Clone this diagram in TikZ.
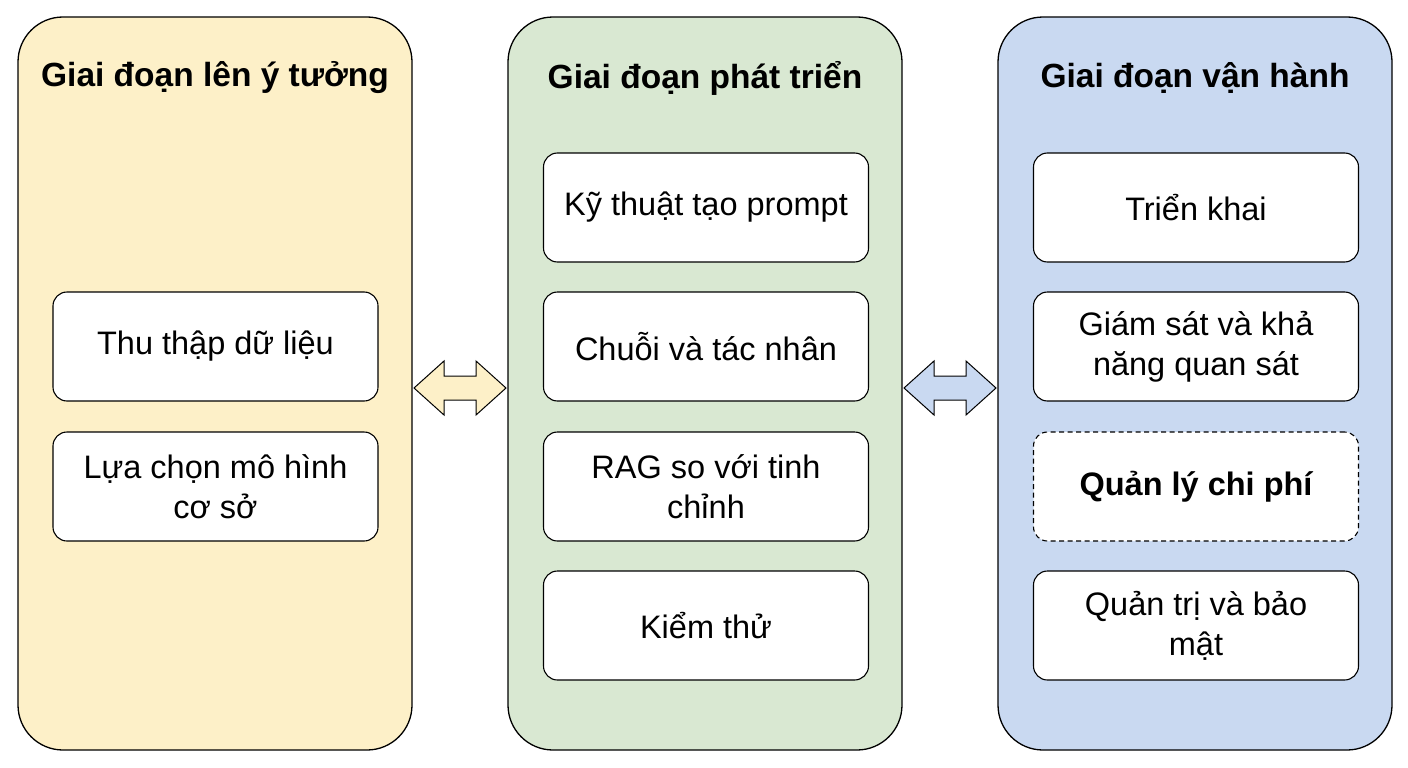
\documentclass[tikz,border=0pt]{standalone}
\usepackage{fontspec}
\setmainfont{Liberation Sans}
\begin{document}
\begin{tikzpicture}[x=1pt,y=-1pt,
  col/.style={draw=black,line width=1.3pt,rounded corners=45pt},
  box/.style={draw=black,line width=1.1pt,fill=white,rounded corners=14pt,minimum width=325pt,minimum height=109pt,align=center,font=\fontsize{32.5}{40}\selectfont},
  ttl/.style={font=\bfseries\fontsize{33.5}{38}\selectfont},
  dbl/.style={draw=black,line width=1pt,line join=miter}]
\useasboundingbox (0,0) rectangle (1408,768);
\draw[col,fill={rgb,255:red,253;green,240;blue,200}] (18,17) rectangle (412,750);
\draw[col,fill={rgb,255:red,217;green,232;blue,210}] (508,17) rectangle (902,750);
\draw[col,fill={rgb,255:red,201;green,217;blue,241}] (998,17) rectangle (1392,750);
\node[ttl] (t1) at (215,78) {Giai đoạn lên ý tưởng};
\node[ttl] (t2) at (705,78) {Giai đoạn phát triển};
\node[ttl] (t3) at (1195,78) {Giai đoạn vận hành};
\node[box] (a1) at (215.5,346.5) {Thu thập dữ liệu};
\node[box] (a2) at (215.5,486.5) {Lựa chọn mô hình\\cơ sở};
\node[box] (b1) at (706,207.5) {Kỹ thuật tạo prompt};
\node[box] (b2) at (706,346.5) {Chuỗi và tác nhân};
\node[box] (b3) at (706,486.5) {RAG so với tinh\\chỉnh};
\node[box] (b4) at (706,625.5) {Kiểm thử};
\node[box] (c1) at (1196,207.5) {Triển khai};
\node[box] (c2) at (1196,346.5) {Giám sát và khả\\năng quan sát};
\node[box,dash pattern=on 5pt off 3.5pt,font=\bfseries\fontsize{32.5}{40}\selectfont] (c3) at (1196,486.5) {Quản lý chi phí};
\node[box] (c4) at (1196,625.5) {Quản trị và bảo\\mật};
\draw[dbl,fill={rgb,255:red,253;green,240;blue,200}] (414,388) -- (444,361) -- (444,376) -- (476,376) -- (476,361) -- (506,388) -- (476,415) -- (476,400) -- (444,400) -- (444,415) -- cycle;
\draw[dbl,fill={rgb,255:red,201;green,217;blue,241}] (904,388) -- (934,361) -- (934,376) -- (966,376) -- (966,361) -- (996,388) -- (966,415) -- (966,400) -- (934,400) -- (934,415) -- cycle;
\end{tikzpicture}
\end{document}
